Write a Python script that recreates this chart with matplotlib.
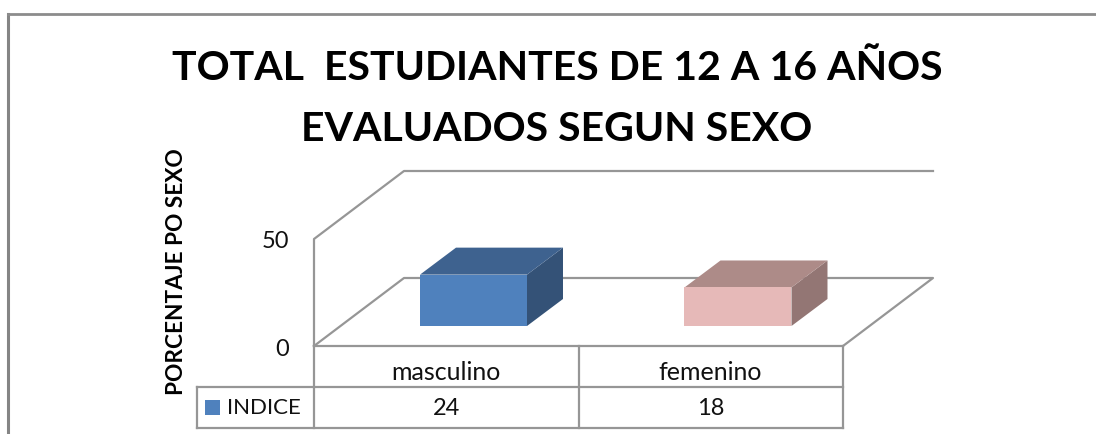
import matplotlib
matplotlib.use("Agg")
import matplotlib.pyplot as plt
from matplotlib.patches import Polygon, Rectangle

categories = ["masculino", "femenino"]
valores = [24, 18]
serie = "INDICE"
y_ticks = [0, 50]
titulo = "TOTAL  ESTUDIANTES DE 12 A 16 AÑOS\nEVALUADOS SEGUN SEXO"
y_label = "PORCENTAJE PO SEXO"

colores_frente = ["#4f81bd", "#e6b9b8"]
colores_arriba = ["#3e628f", "#ad8b88"]
colores_lado = ["#345277", "#937674"]
gris = "#969696"

plt.rcParams["font.family"] = ["Lato", "DejaVu Sans"]

fig = plt.figure(figsize=(10.96, 4.34), dpi=100)
ax = fig.add_axes([0, 0, 1, 1])

# escala: x en categorias, y en valores; 0,0 es la esquina frontal del piso
px_cat = 264.5
px_val = 107 / 50
ax.set_xlim(-314 / px_cat, (1096 - 314) / px_cat)
ax.set_ylim(-(434 - 346) / px_val, 346 / px_val)
ax.axis("off")

# profundidad oblicua
dx_piso, dy_piso = 90 / px_cat, 68 / px_val
dx_bar, dy_bar = 36 / px_cat, 27 / px_val
ancho = 107 / px_cat
n = len(categories)


def linea(xs, ys, lw=1.6, z=1, color=gris):
    ax.plot(xs, ys, color=color, lw=lw, solid_capstyle="projecting", zorder=z)


# marco exterior (sigue hasta el borde derecho)
linea([(8 - 314) / px_cat] * 2, [(346 - 434) / px_val, (346 - 14) / px_val], 2.2, color="#858585")
linea([(8 - 314) / px_cat, (1096 - 314) / px_cat], [(346 - 14) / px_val] * 2, 2, color="#8c8c8c")

# paredes y piso
top = y_ticks[-1]
linea([0, 0, dx_piso, n + dx_piso], [0, top, top + dy_piso, top + dy_piso])
linea([0, dx_piso, n + dx_piso, n], [0, dy_piso, dy_piso, 0])

# barras
y0_bar = 20 / px_val
for i, v in enumerate(valores):
    x0 = i + 0.603 - ancho / 2
    x1 = x0 + ancho
    y0 = y0_bar
    y1 = y0 + v
    ax.add_patch(Polygon([(x1, y0), (x1 + dx_bar, y0 + dy_bar), (x1 + dx_bar, y1 + dy_bar), (x1, y1)],
                         fc=colores_lado[i], ec="none", zorder=3))
    ax.add_patch(Polygon([(x0, y1), (x1, y1), (x1 + dx_bar, y1 + dy_bar), (x0 + dx_bar, y1 + dy_bar)],
                         fc=colores_arriba[i], ec="none", zorder=3))
    ax.add_patch(Rectangle((x0, y0), ancho, v, fc=colores_frente[i], ec="none", zorder=4))

# tabla de datos
fila1 = -(387 - 346) / px_val
fila2 = -(428 - 346) / px_val
izq = -(314 - 197) / px_cat
linea([0, n], [0, 0])
linea([izq, n], [fila1, fila1])
linea([izq, n], [fila2, fila2])
linea([izq, izq], [fila1, fila2])
for i in range(n + 1):
    linea([i, i], [0, fila2])

for i, c in enumerate(categories):
    ax.text(i + 0.5 - 0.5 / px_cat, -(373 - 346) / px_val, c, ha="center", va="center", fontsize=18, color="#111111")
    ax.text(i + 0.5, (fila1 + fila2) / 2 - 1 / px_val, str(valores[i]), ha="center", va="center",
            fontsize=17, color="#111111")

ax.add_patch(Rectangle((izq + 8 / px_cat, (fila1 + fila2) / 2 - 7.5 / px_val), 15 / px_cat, 15 / px_val,
                       fc=colores_frente[0], ec="none"))
ax.text(-(314 - 227) / px_cat, (fila1 + fila2) / 2 - 1 / px_val, serie, ha="left", va="center",
        fontsize=16, color="#111111")

for t in y_ticks:
    ax.text(-(314 - 289) / px_cat, t - 3 / px_val, str(t), ha="right", va="center",
            fontsize=17, color="#111111")

ax.text(-(314 - 176) / px_cat, (346 - 272) / px_val, y_label, rotation=90, ha="center", va="center",
        fontsize=16.3, fontweight="bold", color="black")
ax.text((557 - 314) / px_cat, (346 - 99) / px_val, titulo, ha="center", va="center", fontsize=29.5,
        fontweight="bold", color="black", linespacing=1.78)

fig.savefig("out.png", dpi=100)
